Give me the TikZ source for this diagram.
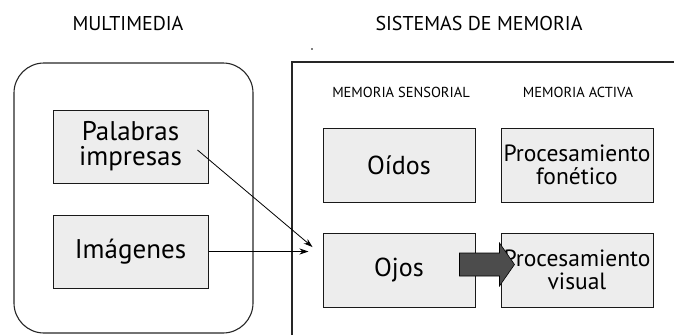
\documentclass[tikz,border=0pt]{standalone}
\usepackage{fontspec}
\setmainfont{PT Sans}
\usetikzlibrary{arrows.meta,calc}
\begin{document}
\begin{tikzpicture}[x=1pt,y=-1pt,
  membox/.style={draw=black!90, line width=1pt, fill=gray!14, minimum width=154pt, minimum height=73pt, align=center, inner sep=0pt},
  bigtext/.style={font=\fontsize{27}{25}\selectfont},
  midtext/.style={font=\fontsize{26}{24}\selectfont},
  proctext/.style={font=\fontsize{23.5}{22.5}\selectfont},
  header/.style={font=\fontsize{20}{22}\selectfont},
  subheader/.style={font=\fontsize{14.5}{16}\selectfont},
  thinarrow/.style={line width=0.8pt, -{Stealth[length=9pt,width=6pt]}},
  frame/.style={line width=1.1pt, black!85}]
\useasboundingbox (0,0) rectangle (674,335);
% frames
\draw[frame, rounded corners=30pt] (14,63) rectangle (253,333);
\draw[frame] (292,335) -- (292,62) -- (674,62);
\fill (312,49) circle (0.8pt);
% headers
\node[header] (hmm) at (128,23.5) {MULTIMEDIA};
\node[header] (hsm) at (479,23.5) {SISTEMAS DE MEMORIA};
\node[subheader] (hsen) at (401,92) {MEMORIA SENSORIAL};
\node[subheader] (hact) at (578,92) {MEMORIA ACTIVA};
% boxes
\node[membox, bigtext, minimum width=155pt] (pal) at (130.5,146.5) {Palabras\\impresas};
\node[membox, bigtext, minimum width=155pt] (img) at (130.5,251.5) {Imágenes};
\node[membox, midtext, minimum width=152pt, minimum height=74pt] (oid) at (399,165) {Oídos};
\node[membox, proctext, minimum width=152pt, minimum height=74pt] (fon) at (577,165) {Procesamiento\\fonético};
\node[membox, midtext, minimum width=152pt, minimum height=74pt] (ojo) at (399,270) {Ojos};
\node[membox, proctext, minimum width=152pt, minimum height=74pt] (vis) at (577,270) {Procesamiento\\visual};
% arrows
\coordinate (palstart) at ($(pal.east)+(-11,3.5)$);
\coordinate (palend) at ($(ojo.west)+(-10,-23)$);
\draw[thinarrow] (palstart) -- (palend);
\coordinate (imgend) at ($(img.east -| ojo.west)+(-14,0)$);
\draw[thinarrow] (img.east) -- (imgend);
% block arrow
\coordinate (ba) at ($(ojo.east)+(-16,-5.5)$);
\filldraw[fill=black!70, draw=black, line width=0.6pt]
  ($(ba)+(0,-11.5)$) -- ++(40,0) -- ++(0,-10) -- ++(15,21.5) -- ++(-15,21.5) -- ++(0,-10) -- ++(-40,0) -- cycle;
\end{tikzpicture}
\end{document}
